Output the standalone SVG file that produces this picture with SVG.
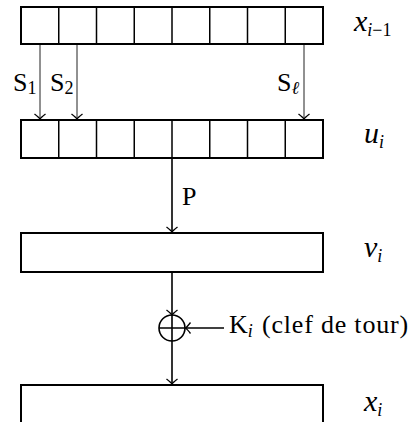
<svg xmlns="http://www.w3.org/2000/svg" width="412" height="422" viewBox="0 0 412 422">
<style>
.box{fill:#fff;stroke:#000;stroke-width:2}
.div{stroke:#000;stroke-width:1.5;fill:none}
.thin{stroke:#222;stroke-width:1;fill:none}
.thick{stroke:#000;stroke-width:1.6;fill:none}
text{font-family:'Liberation Serif','Times New Roman',serif;fill:#000}
.lbl{font-size:26px}
.math{font-style:italic;font-size:30px}
.sub{font-size:18px}
.it{font-style:italic}
.up{font-style:normal}
</style>
<defs>
<marker id="ah" markerUnits="userSpaceOnUse" markerWidth="14" markerHeight="14" viewBox="-7 -7 14 14" refX="0" refY="0" orient="auto" overflow="visible">
<path d="M-5,-5.5 Q-1.5,-1 0,0 Q-1.5,1 -5,5.5" fill="none" stroke="#000" stroke-width="1.3"/>
</marker>
</defs>
<rect width="412" height="422" fill="#fff"/>

<g id="reg-x-prev">
<rect class="box" x="21" y="7" width="302" height="37"/>
<path class="div" d="M58.75,7V44M96.5,7V44M134.25,7V44M172,7V44M209.75,7V44M247.5,7V44M285.25,7V44"/>
<text class="math" x="354" y="31">x<tspan class="sub" dy="5">i<tspan class="up">−1</tspan></tspan></text>
</g>

<g id="reg-u">
<rect class="box" x="21" y="120" width="302" height="38"/>
<path class="div" d="M58.75,120V158M96.5,120V158M134.25,120V158M172,120V158M209.75,120V158M247.5,120V158M285.25,120V158"/>
<text class="math" x="364" y="143">u<tspan class="sub" dy="5">i</tspan></text>
</g>

<g id="box-v">
<rect class="box" x="21" y="233" width="302" height="39"/>
<text class="math" x="364" y="257">v<tspan class="sub" dy="5">i</tspan></text>
</g>

<g id="xor">
<circle cx="172" cy="328" r="13" fill="none" stroke="#000" stroke-width="1.6"/>
<path class="thick" d="M159,328H185M172,315V341"/>
</g>

<g id="box-x">
<rect class="box" x="21" y="385" width="302" height="45"/>
<text class="math" x="364" y="411">x<tspan class="sub" dy="5">i</tspan></text>
</g>

<g id="connectors">
<line class="thin" x1="40" y1="45" x2="40" y2="119" marker-end="url(#ah)"/>
<line class="thin" x1="77" y1="45" x2="77" y2="119" marker-end="url(#ah)"/>
<line class="thin" x1="304" y1="45" x2="304" y2="119" marker-end="url(#ah)"/>
<line class="thick" x1="172" y1="158" x2="172" y2="232" marker-end="url(#ah)"/>
<line class="thick" x1="172" y1="272" x2="172" y2="315" marker-end="url(#ah)"/>
<line class="thick" x1="224" y1="328" x2="185.5" y2="328" marker-end="url(#ah)"/>
<line class="thick" x1="172" y1="341" x2="172" y2="384" marker-end="url(#ah)"/>
</g>

<g id="labels">
<text class="lbl" x="13" y="91">S<tspan class="sub" dy="3">1</tspan></text>
<text class="lbl" x="50" y="91">S<tspan class="sub" dy="3">2</tspan></text>
<text class="lbl" x="277" y="91">S<tspan class="sub it" dy="3">ℓ</tspan></text>
<text class="lbl" x="182" y="205">P</text>
<text class="lbl" x="229" y="333">K<tspan class="sub it" dy="4">i</tspan><tspan x="262" dy="-4" letter-spacing="0.8">(clef de tour)</tspan></text>
</g>
</svg>
